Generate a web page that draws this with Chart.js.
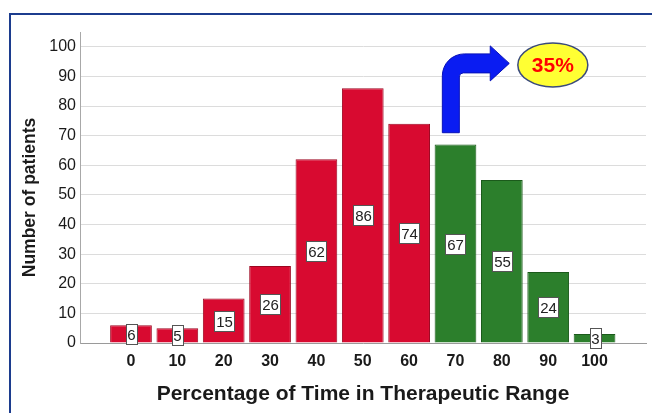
<!DOCTYPE html>
<html>
<head>
<meta charset="utf-8">
<script src="https://cdn.jsdelivr.net/npm/chart.js@4.4.1/dist/chart.umd.min.js"></script>
<style>
  html, body { margin: 0; padding: 0; background: #ffffff; }
  #wrap { width: 652px; height: 413px; position: relative; }
</style>
</head>
<body>
<div id="wrap"><canvas id="ttrChart" width="652" height="413"></canvas></div>
<script>
// Time in therapeutic range (TTR) bins and the number of patients in each
const ttrBins = [0, 10, 20, 30, 40, 50, 60, 70, 80, 90, 100];
const patientCounts = [6, 5, 15, 26, 62, 86, 74, 67, 55, 24, 3];
const yTickValues = [0, 10, 20, 30, 40, 50, 60, 70, 80, 90, 100];
const targetTTR = 70;            // bins at or above this are in good control
const shareAboveTarget = '35%';  // share of patients with TTR >= 70%
const yAxisTitle = 'Number of patients';
const xAxisTitle = 'Percentage of Time in Therapeutic Range';

const FONT = '"Liberation Sans", Arial, sans-serif';
const RED = '#d80a30', RED_EDGE = '#9c0620';
const GREEN = '#2c7f2c', GREEN_EDGE = '#1b5a1b';

const barFill = ttrBins.map(b => b >= targetTTR ? GREEN : RED);
const barEdge = ttrBins.map(b => b >= targetTTR ? GREEN_EDGE : RED_EDGE);

// white page with the dark blue frame on the left and top
const framePlugin = {
  id: 'frame',
  beforeDraw(chart) {
    const ctx = chart.ctx;
    ctx.save();
    ctx.fillStyle = '#ffffff';
    ctx.fillRect(0, 0, chart.width, chart.height);
    ctx.fillStyle = '#1c3c8e';
    ctx.fillRect(9, 13, 2, chart.height - 13);
    ctx.fillRect(9, 13, chart.width - 9, 2);
    ctx.restore();
  }
};

// vertical axis title, set a little below the middle of the plot
const yTitlePlugin = {
  id: 'yTitle',
  afterDraw(chart) {
    const ctx = chart.ctx;
    const area = chart.chartArea;
    ctx.save();
    ctx.translate(35, (area.top + area.bottom) / 2 + 10);
    ctx.rotate(-Math.PI / 2);
    ctx.font = 'bold 17.5px ' + FONT;
    ctx.fillStyle = '#1a1a1a';
    ctx.textAlign = 'center';
    ctx.textBaseline = 'alphabetic';
    ctx.fillText(yAxisTitle, 0, 0);
    ctx.restore();
  }
};

// boxed count in the middle of each bar
const barLabelPlugin = {
  id: 'barLabels',
  afterDatasetsDraw(chart) {
    const ctx = chart.ctx;
    const meta = chart.getDatasetMeta(0);
    const values = chart.data.datasets[0].data;
    ctx.save();
    ctx.font = '15px ' + FONT;
    ctx.textAlign = 'center';
    ctx.textBaseline = 'middle';
    meta.data.forEach((bar, i) => {
      const txt = String(values[i].y);
      const cx = Math.round(bar.x);
      const cy = Math.round((bar.y + bar.base) / 2);
      const w = Math.round(ctx.measureText(txt).width + 3);
      const h = 20;
      const x0 = Math.round(cx - w / 2) + 0.5, y0 = cy - h / 2 + 0.5;
      ctx.fillStyle = '#ffffff';
      ctx.fillRect(x0, y0, w, h);
      ctx.strokeStyle = '#555555';
      ctx.lineWidth = 1;
      ctx.strokeRect(x0, y0, w, h);
      ctx.fillStyle = '#222222';
      ctx.fillText(txt, cx + 0.5, cy + 1.5);
    });
    ctx.restore();
  }
};

// bent arrow from the first in-range bar up to the share badge
const calloutPlugin = {
  id: 'callout',
  afterDraw(chart) {
    const ctx = chart.ctx;
    const xs = chart.scales.x, ys = chart.scales.y;
    const X = v => xs.getPixelForValue(v), Y = v => ys.getPixelForValue(v);

    const sx = X(69.0), by = Y(71), cy = Y(94.4), hx = X(77.5), tx = X(81.6);
    const xl = sx - 8.5, xr = sx + 8.5, yt = cy - 9.5, yb = cy + 9.5;
    const R = 22, r = 4, hh = 17.5;

    ctx.save();
    ctx.beginPath();
    ctx.moveTo(xl, by);
    ctx.lineTo(xl, yt + R);
    ctx.arcTo(xl, yt, xl + R, yt, R);
    ctx.lineTo(hx, yt);
    ctx.lineTo(hx, cy - hh);
    ctx.lineTo(tx, cy);
    ctx.lineTo(hx, cy + hh);
    ctx.lineTo(hx, yb);
    ctx.lineTo(xr + r, yb);
    ctx.arcTo(xr, yb, xr, yb + r, r);
    ctx.lineTo(xr, by);
    ctx.closePath();
    ctx.fillStyle = '#0a1cf2';
    ctx.fill();
    ctx.strokeStyle = '#0812b8';
    ctx.lineWidth = 1;
    ctx.stroke();

    const ex = X(91.0), ey = Y(93.9);
    ctx.beginPath();
    ctx.ellipse(ex, ey, 35, 22, 0, 0, Math.PI * 2);
    ctx.fillStyle = '#ffff33';
    ctx.fill();
    ctx.strokeStyle = '#3a4a7c';
    ctx.lineWidth = 1.5;
    ctx.stroke();

    ctx.font = 'bold 21px ' + FONT;
    ctx.fillStyle = '#ff0000';
    ctx.textAlign = 'center';
    ctx.textBaseline = 'middle';
    ctx.fillText(shareAboveTarget, ex, ey + 1);
    ctx.restore();
  }
};

new Chart(document.getElementById('ttrChart'), {
  type: 'bar',
  data: {
    datasets: [{
      label: yAxisTitle,
      data: ttrBins.map((b, i) => ({ x: b, y: patientCounts[i] })),
      backgroundColor: barFill,
      borderColor: barEdge,
      borderWidth: 1,
      barPercentage: 0.9,
      categoryPercentage: 1.0
    }]
  },
  options: {
    responsive: false,
    devicePixelRatio: 1,
    animation: false,
    layout: { padding: { top: 32, right: 6, left: 0, bottom: 0 } },
    plugins: { legend: { display: false }, tooltip: { enabled: false } },
    scales: {
      x: {
        type: 'linear',
        min: -11,
        max: 111.1,
        offset: false,
        afterBuildTicks: s => { s.ticks = ttrBins.map(v => ({ value: v })); },
        afterFit: s => { s.height = 70; },
        grid: { display: false, drawTicks: false },
        border: { display: true, color: '#9a9a9a', width: 1 },
        ticks: {
          padding: 9,
          autoSkip: false,
          maxRotation: 0,
          color: '#1a1a1a',
          font: { family: FONT, size: 16, weight: 'bold' },
          callback: v => String(v)
        },
        title: {
          display: true,
          text: xAxisTitle,
          color: '#1a1a1a',
          font: { family: FONT, size: 21, weight: 'bold' },
          padding: { top: 0, bottom: 6 }
        }
      },
      y: {
        min: 0,
        max: 105,
        afterBuildTicks: s => { s.ticks = yTickValues.map(v => ({ value: v })); },
        afterFit: s => { s.width = 80; },
        grid: { color: '#dcdcdc', lineWidth: 1, drawTicks: false },
        border: { display: true, color: '#a8a8a8', width: 1 },
        ticks: {
          padding: 4,
          color: '#1a1a1a',
          font: { family: FONT, size: 16 },
          callback: v => String(v)
        },
        title: { display: false }
      }
    }
  },
  plugins: [framePlugin, barLabelPlugin, calloutPlugin, yTitlePlugin]
});
</script>
</body>
</html>
